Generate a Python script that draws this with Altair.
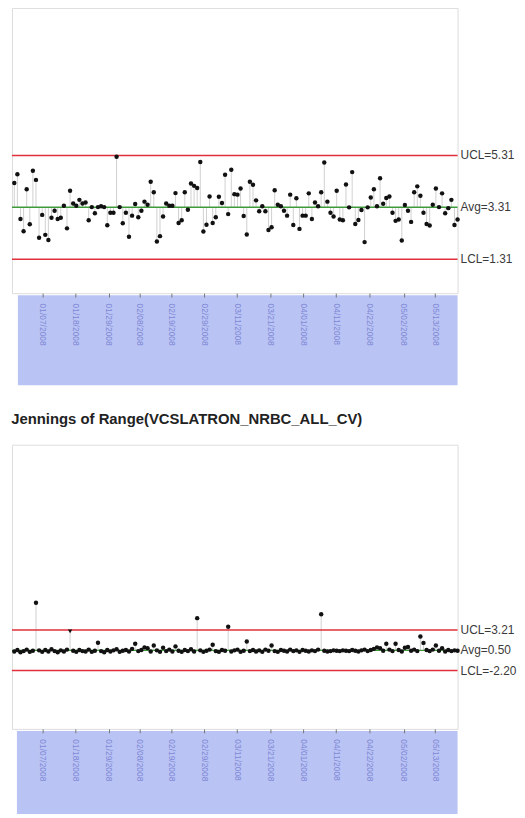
import altair as alt
import pandas as pd

# ---------------- data ----------------
top_values = [4.25, 4.59, 2.86, 2.39, 4.01, 2.66, 4.72, 4.37, 2.14, 3.02, 2.25, 2.05,
              2.91, 3.18, 2.86, 2.91, 3.37, 2.50, 3.95, 3.46, 3.37, 3.60, 3.46, 3.50,
              2.81, 3.32, 3.08, 3.32, 3.35, 3.32, 2.62, 3.10, 3.10, 5.26, 3.32, 2.70,
              3.10, 2.18, 2.99, 3.44, 2.93, 3.18, 3.53, 3.41, 4.30, 3.89, 1.99, 2.20,
              2.96, 3.46, 3.37, 3.37, 3.86, 2.71, 2.81, 3.89, 3.22, 4.23, 4.14, 4.06,
              5.06, 2.38, 2.64, 3.73, 2.71, 2.93, 3.72, 3.48, 4.57, 3.05, 4.76, 3.82,
              3.80, 4.04, 2.98, 2.26, 4.30, 4.18, 3.58, 3.16, 3.35, 3.16, 2.44, 2.54,
              3.97, 3.41, 3.35, 3.18, 2.99, 3.80, 2.63, 3.66, 2.48, 2.99, 2.99, 3.85,
              2.86, 3.50, 3.35, 3.89, 5.04, 3.53, 3.10, 2.96, 3.95, 2.84, 2.81, 4.19,
              3.31, 4.67, 2.67, 2.82, 3.21, 1.97, 3.31, 3.69, 4.01, 3.35, 4.43, 3.45,
              3.67, 3.73, 3.10, 2.79, 2.84, 2.03, 3.40, 3.18, 2.75, 3.89, 4.12, 3.76,
              3.10, 2.67, 2.61, 3.41, 4.04, 3.32, 3.85, 3.08, 3.28, 3.60, 2.63, 2.84]

bottom_values = [0.35, 0.55, 0.25, 0.40, 0.60, 0.30, 0.45, 6.87, 0.50, 0.30, 0.55, 0.35,
                 0.65, 0.40, 0.25, 0.50, 0.35, 0.60, 3.05, 0.45, 0.30, 0.55, 0.40, 0.35,
                 0.60, 0.30, 0.45, 1.51, 0.40, 0.25, 0.55, 0.35, 0.50, 0.65, 0.30, 0.45,
                 0.55, 0.35, 0.70, 1.38, 0.40, 0.55, 0.90, 0.80, 0.35, 1.16, 0.50, 0.30,
                 0.85, 0.40, 0.60, 0.35, 1.03, 0.45, 0.30, 0.55, 0.40, 0.65, 0.35, 4.81,
                 0.50, 0.30, 0.45, 0.60, 1.25, 0.40, 0.30, 0.55, 0.45, 3.67, 0.35, 0.50,
                 0.60, 0.30, 0.45, 1.69, 0.40, 0.55, 0.35, 0.50, 0.30, 0.60, 0.45, 1.16,
                 0.40, 0.30, 0.55, 0.45, 0.35, 0.60, 0.40, 0.50, 0.30, 0.55, 0.45, 0.35,
                 0.50, 0.40, 0.60, 5.34, 0.45, 0.35, 0.40, 0.50, 0.45, 0.40, 0.50, 0.45,
                 0.40, 0.55, 0.45, 0.35, 0.50, 0.60, 0.40, 0.55, 0.70, 0.90, 0.80, 0.45,
                 1.38, 0.60, 0.40, 1.38, 0.55, 0.35, 0.85, 0.95, 0.45, 0.60, 0.40, 2.35,
                 1.50, 0.55, 0.40, 0.60, 1.16, 0.45, 0.80, 0.35, 0.55, 0.40, 0.50, 0.45]
bottom_flagged = [19]  # drawn as a down-pointing triangle

top_limits = {"UCL": 5.31, "Avg": 3.31, "LCL": 1.31}
top_limit_labels = ["UCL=5.31", "Avg=3.31", "LCL=1.31"]
bottom_limits = {"UCL": 3.21, "Avg": 0.50, "LCL": -2.20}
bottom_limit_labels = ["UCL=3.21", "Avg=0.50", "LCL=-2.20"]

tick_positions = [10, 20.7, 31.4, 41.5, 51.6, 62.2, 72.9, 83.5, 94.2, 104.8, 115.5, 126.7, 136.8]
tick_labels = ["01/07/2008", "01/18/2008", "01/29/2008", "02/08/2008", "02/19/2008",
               "02/29/2008", "03/11/2008", "03/21/2008", "04/01/2008", "04/11/2008",
               "04/22/2008", "05/02/2008", "05/13/2008"]

bottom_title = "Jennings of Range(VCSLATRON_NRBC_ALL_CV)"

# ---------------- chart ----------------
N = len(top_values)
index = list(range(1, N + 1))
W = 450

label_expr = ""
for p, l in zip(tick_positions, tick_labels):
    label_expr += f"datum.value == {p} ? '{l}' : "
label_expr += "''"


def panel(values, limits, limit_labels, ydom, height, band, flagged=None, title=None):
    shapes = ["triangle-down" if (flagged and i in flagged) else "circle" for i in index]
    df = pd.DataFrame({"i": index, "v": values, "avg": limits["Avg"], "shape": shapes})
    xenc = alt.X("i:Q",
                 scale=alt.Scale(domain=[0.25, N], nice=False, zero=False),
                 axis=alt.Axis(values=tick_positions, labelExpr=label_expr, title=None,
                               domain=False, grid=False, ticks=True, tickColor="#777",
                               tickSize=4, labelAngle=90, labelAlign="left",
                               labelBaseline="middle", labelFontSize=8.5,
                               labelColor="#8088d6", labelPadding=6, zindex=1,
                               labelOverlap=False, labelFont="Liberation Sans"))
    yscale = alt.Scale(domain=ydom, nice=False, zero=False)

    band_layer = alt.Chart(pd.DataFrame({"a": [0]})).mark_rect(
        color="#bac4f4").encode(
        x=alt.value(band[0]), x2=alt.value(band[1]),
        y=alt.value(band[2]), y2=alt.value(band[3]))

    needles = alt.Chart(df).mark_rule(color="#c4c4c4", strokeWidth=0.8).encode(
        x=xenc, y=alt.Y("v:Q", scale=yscale, axis=None), y2="avg:Q")

    ldf = pd.DataFrame({"v": [limits["UCL"], limits["Avg"], limits["LCL"]],
                        "label": limit_labels,
                        "c": ["#e0303c", "#3f9a3a", "#e0303c"]})
    lines = alt.Chart(ldf).mark_rule(strokeWidth=1.5).encode(
        y=alt.Y("v:Q", scale=yscale, axis=None),
        color=alt.Color("c:N", scale=None))
    texts = alt.Chart(ldf).mark_text(align="left", baseline="middle", fontSize=12,
                                     font="Liberation Sans", color="#3a3a3a").encode(
        x=alt.value(W + 3), y=alt.Y("v:Q", scale=yscale, axis=None), text="label:N")

    points = alt.Chart(df).mark_point(filled=True, size=20, color="#111", opacity=1).encode(
        x=xenc, y=alt.Y("v:Q", scale=yscale, axis=None),
        shape=alt.Shape("shape:N", scale=None))

    ch = alt.layer(band_layer, needles, lines, points, texts).properties(width=W, height=height)
    if title:
        ch = ch.properties(title=alt.TitleParams(title, anchor="start", fontSize=15,
                                                 fontWeight="bold", font="Liberation Sans",
                                                 color="#222", offset=18))
    return ch


top = panel(top_values, top_limits, top_limit_labels, [0, 11], 288, (6, 450, 290, 381))
bottom = panel(bottom_values, bottom_limits, bottom_limit_labels, [-10, 28], 287,
               (5, 450, 289, 373), flagged=bottom_flagged, title=bottom_title)

chart = alt.vconcat(top, bottom, spacing=25).properties(
    padding={"left": 2, "top": -5, "right": 0, "bottom": 0}
).configure_view(stroke="#666", strokeWidth=1).configure_axis(
    labelOverlap=False
).configure(background="white")

chart.save("out.html", embed_options={"renderer": "svg", "actions": False})
